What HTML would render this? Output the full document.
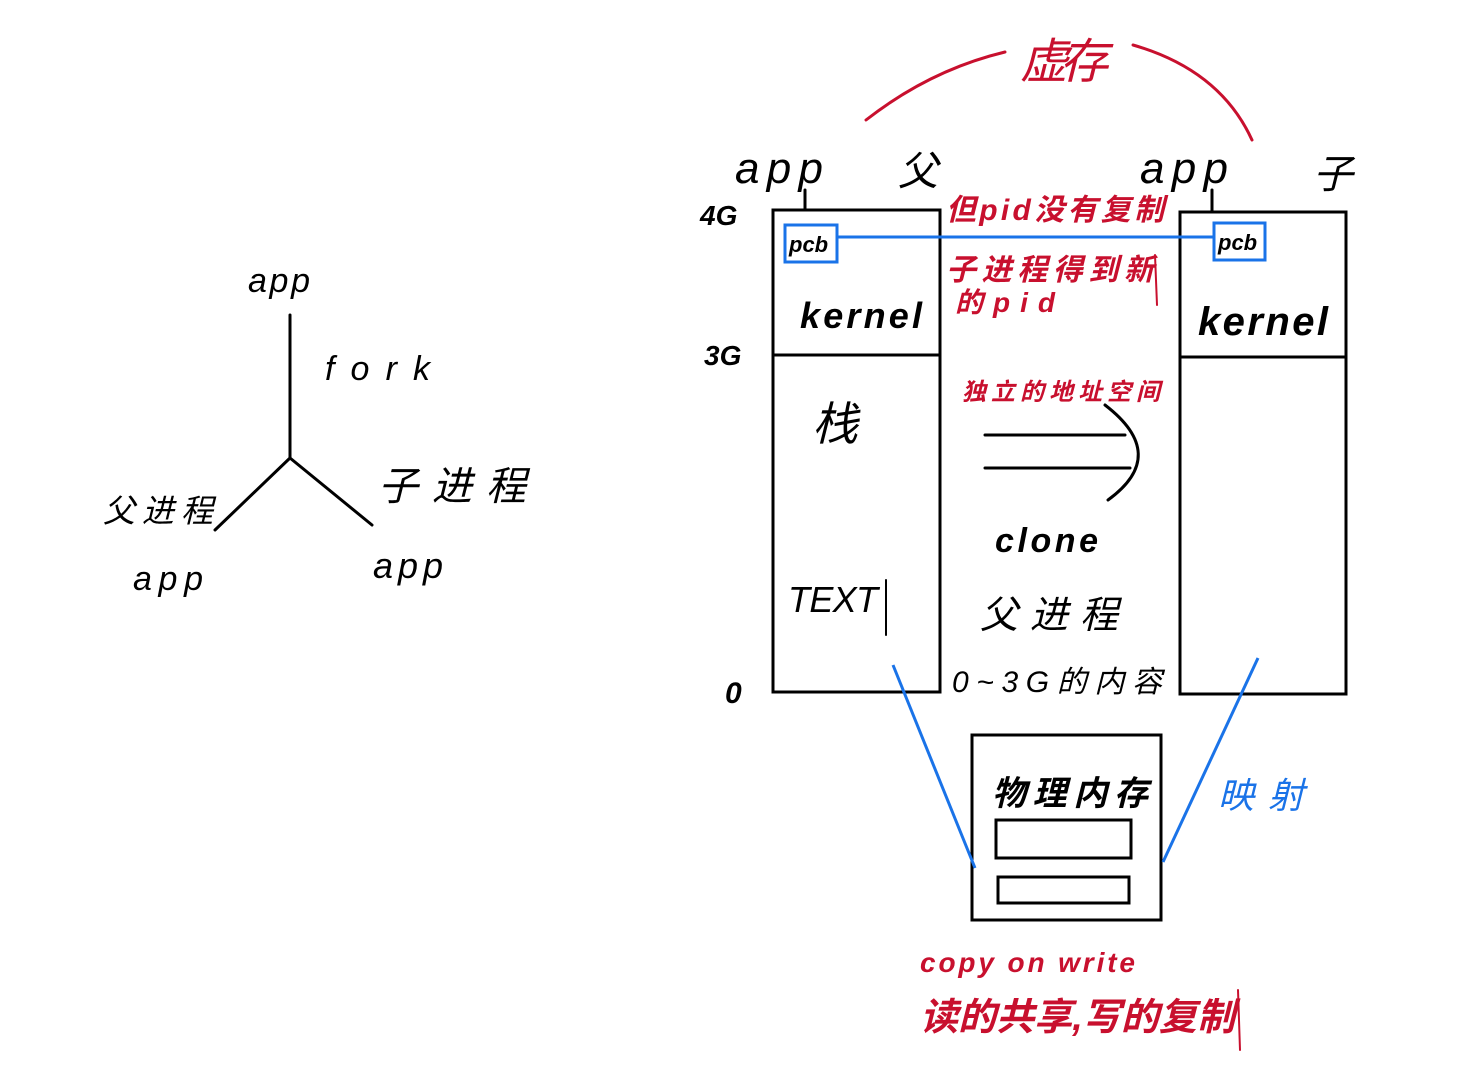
<!DOCTYPE html>
<html><head><meta charset="utf-8"><style>
html,body{margin:0;padding:0;background:#fff;}
svg{display:block;}
text{font-family:"Liberation Sans","Noto Sans CJK SC",sans-serif;}
</style></head><body>
<svg width="1481" height="1080" viewBox="0 0 1481 1080" xmlns="http://www.w3.org/2000/svg">
<g stroke="#000" stroke-width="3" fill="none" stroke-linecap="round">
<line x1="290" y1="315" x2="290" y2="458"/>
<line x1="290" y1="458" x2="215" y2="530"/>
<line x1="290" y1="458" x2="372" y2="525"/>
<rect x="773" y="210" width="167" height="482"/>
<line x1="773" y1="355" x2="940" y2="355"/>
<rect x="1180" y="212" width="166" height="482"/>
<line x1="1180" y1="357" x2="1346" y2="357"/>
<line x1="805" y1="190" x2="805" y2="210"/>
<line x1="1212" y1="190" x2="1212" y2="212"/>
<rect x="972" y="735" width="189" height="185"/>
<rect x="996" y="820" width="135" height="38"/>
<rect x="998" y="877" width="131" height="26"/>
<line x1="985" y1="435" x2="1125" y2="435"/>
<line x1="985" y1="468" x2="1130" y2="468"/>
<path d="M1105 405 Q1170 455 1108 500"/>
<line x1="886" y1="580" x2="886" y2="635" stroke-width="2"/>
</g>
<g stroke="#1a73e8" stroke-width="3" fill="none">
<rect x="785" y="225" width="52" height="37"/>
<rect x="1214" y="223" width="51" height="37"/>
<line x1="837" y1="237" x2="1214" y2="237"/>
<line x1="893" y1="665" x2="975" y2="868"/>
<line x1="1258" y1="658" x2="1163" y2="862"/>
</g>
<g stroke="#c8102e" stroke-width="3" fill="none" stroke-linecap="round">
<path d="M866 120 Q930 70 1005 52"/>
<path d="M1133 45 Q1220 70 1252 140"/>
<line x1="1155" y1="255" x2="1157" y2="305" stroke-width="2"/>
<line x1="1238" y1="990" x2="1240" y2="1050" stroke-width="2"/>
</g>
<g fill="#000" font-style="italic">
<text x="248" y="292" font-size="34" textLength="62">app</text>
<text x="325" y="380" font-size="34" textLength="105">fork</text>
<text x="103" y="522" font-size="32" textLength="110">父进程</text>
<text x="378" y="500" font-size="40" textLength="148">子进程</text>
<text x="133" y="590" font-size="34" textLength="70">app</text>
<text x="373" y="578" font-size="36" textLength="70">app</text>
<text x="735" y="183" font-size="44" textLength="88">app</text>
<text x="898" y="185" font-size="40">父</text>
<text x="1140" y="183" font-size="44" textLength="88">app</text>
<text x="1313" y="188" font-size="40">子</text>
<text x="700" y="225" font-size="28" font-weight="bold">4G</text>
<text x="704" y="365" font-size="28" font-weight="bold">3G</text>
<text x="725" y="703" font-size="30" font-weight="bold">0</text>
<text x="789" y="252" font-size="22" font-weight="bold">pcb</text>
<text x="1218" y="250" font-size="22" font-weight="bold">pcb</text>
<text x="800" y="328" font-size="36" font-weight="bold" textLength="122">kernel</text>
<text x="1198" y="335" font-size="40" font-weight="bold" textLength="130">kernel</text>
<text x="812" y="440" font-size="46">栈</text>
<text x="788" y="612" font-size="36" textLength="90">TEXT</text>
<text x="995" y="552" font-size="34" font-weight="bold" textLength="103">clone</text>
<text x="980" y="628" font-size="38" textLength="138">父进程</text>
<text x="952" y="692" font-size="30" textLength="210">0~3G的内容</text>
<text x="992" y="805" font-size="34" font-weight="bold" textLength="156">物理内存</text>
</g>
<g fill="#c8102e" font-style="italic">
<text x="1020" y="78" font-size="48" textLength="88">虚存</text>
<text x="946" y="220" font-size="30" font-weight="bold" textLength="218">但pid没有复制</text>
<text x="946" y="280" font-size="30" font-weight="bold" textLength="208">子进程得到新</text>
<text x="955" y="312" font-size="28" font-weight="bold" textLength="100">的pid</text>
<text x="962" y="400" font-size="24" font-weight="bold" textLength="198">独立的地址空间</text>
<text x="920" y="972" font-size="28" font-weight="bold" textLength="215">copy on write</text>
<text x="920" y="1030" font-size="38" font-weight="bold" textLength="315">读的共享,写的复制</text>
</g>
<text x="1218" y="808" font-size="36" fill="#1a73e8" font-style="italic" textLength="86">映射</text>
</svg>
</body></html>
